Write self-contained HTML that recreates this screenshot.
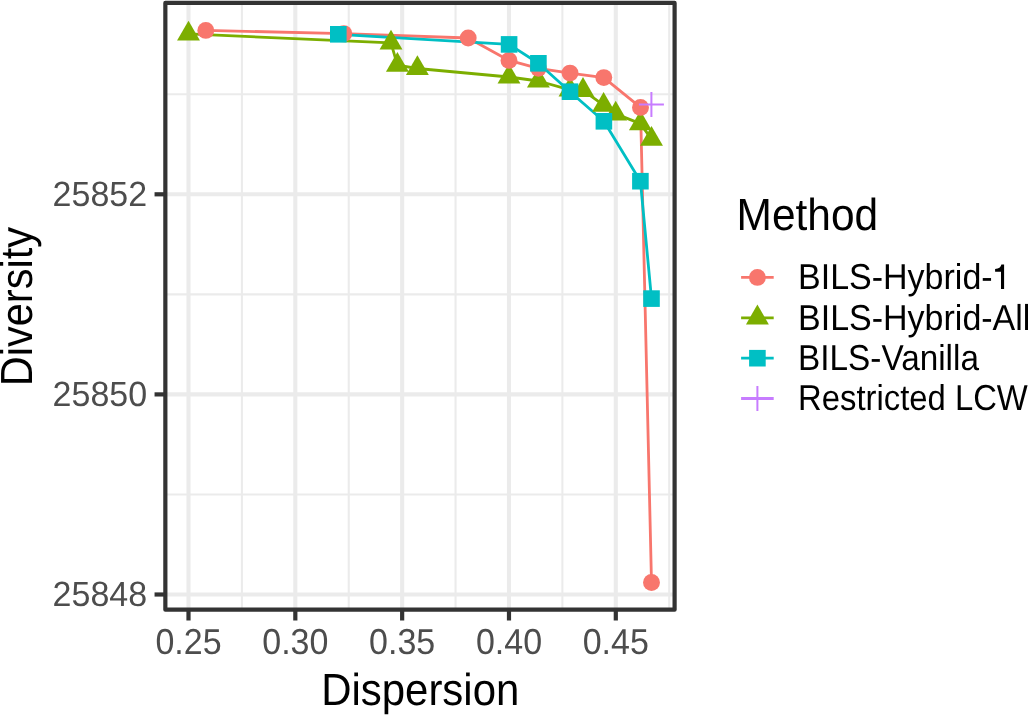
<!DOCTYPE html>
<html><head><meta charset="utf-8"><style>
html,body{margin:0;padding:0;background:#fff;width:1028px;height:715px;overflow:hidden}
svg{display:block}
text{font-family:"Liberation Sans",sans-serif;text-rendering:geometricPrecision}
svg{will-change:transform}
</style></head><body>
<svg width="1028" height="715" viewBox="0 0 1028 715">
<rect width="1028" height="715" fill="#fff"/>
<rect x="165.35" y="2.95" width="509.25" height="606.75" fill="#fff"/>
<line x1="241.91" y1="2.95" x2="241.91" y2="609.7" stroke="#EBEBEB" stroke-width="2.06"/>
<line x1="348.74" y1="2.95" x2="348.74" y2="609.7" stroke="#EBEBEB" stroke-width="2.06"/>
<line x1="455.56" y1="2.95" x2="455.56" y2="609.7" stroke="#EBEBEB" stroke-width="2.06"/>
<line x1="562.39" y1="2.95" x2="562.39" y2="609.7" stroke="#EBEBEB" stroke-width="2.06"/>
<line x1="669.21" y1="2.95" x2="669.21" y2="609.7" stroke="#EBEBEB" stroke-width="2.06"/>
<line x1="165.35" y1="494.45" x2="674.6" y2="494.45" stroke="#EBEBEB" stroke-width="2.06"/>
<line x1="165.35" y1="294.35" x2="674.6" y2="294.35" stroke="#EBEBEB" stroke-width="2.06"/>
<line x1="165.35" y1="94.25" x2="674.6" y2="94.25" stroke="#EBEBEB" stroke-width="2.06"/>
<line x1="188.50" y1="2.95" x2="188.50" y2="609.7" stroke="#EBEBEB" stroke-width="4.1"/>
<line x1="295.32" y1="2.95" x2="295.32" y2="609.7" stroke="#EBEBEB" stroke-width="4.1"/>
<line x1="402.15" y1="2.95" x2="402.15" y2="609.7" stroke="#EBEBEB" stroke-width="4.1"/>
<line x1="508.98" y1="2.95" x2="508.98" y2="609.7" stroke="#EBEBEB" stroke-width="4.1"/>
<line x1="615.80" y1="2.95" x2="615.80" y2="609.7" stroke="#EBEBEB" stroke-width="4.1"/>
<line x1="165.35" y1="594.50" x2="674.6" y2="594.50" stroke="#EBEBEB" stroke-width="4.1"/>
<line x1="165.35" y1="394.40" x2="674.6" y2="394.40" stroke="#EBEBEB" stroke-width="4.1"/>
<line x1="165.35" y1="194.30" x2="674.6" y2="194.30" stroke="#EBEBEB" stroke-width="4.1"/>
<path d="M205.80,30.40L343.80,33.60L468.20,38.00L509.00,60.40L538.40,68.30L570.00,73.10L603.80,77.60L640.50,107.40L651.50,582.50" stroke="#F8766D" stroke-width="2.8" fill="none" stroke-linejoin="round" stroke-linecap="butt"/>
<path d="M188.50,33.90L391.00,42.90L397.40,65.10L417.40,68.50L509.00,77.00L538.40,81.00L570.00,89.90L583.00,90.30L603.60,105.20L615.70,113.90L640.40,123.60L651.50,139.10" stroke="#7CAE00" stroke-width="2.8" fill="none" stroke-linejoin="round" stroke-linecap="butt"/>
<path d="M338.30,34.30L509.10,44.40L538.40,63.30L570.00,91.70L603.90,121.30L640.40,181.20L651.50,298.60" stroke="#00BFC4" stroke-width="2.8" fill="none" stroke-linejoin="round" stroke-linecap="butt"/>
<path d="M188.50,20.68L199.95,40.51L177.05,40.51Z" fill="#7CAE00"/>
<path d="M391.00,29.68L402.45,49.51L379.55,49.51Z" fill="#7CAE00"/>
<path d="M397.40,51.88L408.85,71.71L385.95,71.71Z" fill="#7CAE00"/>
<path d="M417.40,55.28L428.85,75.11L405.95,75.11Z" fill="#7CAE00"/>
<path d="M509.00,63.78L520.45,83.61L497.55,83.61Z" fill="#7CAE00"/>
<path d="M538.40,67.78L549.85,87.61L526.95,87.61Z" fill="#7CAE00"/>
<path d="M570.00,76.68L581.45,96.51L558.55,96.51Z" fill="#7CAE00"/>
<path d="M583.00,77.08L594.45,96.91L571.55,96.91Z" fill="#7CAE00"/>
<path d="M603.60,91.98L615.05,111.81L592.15,111.81Z" fill="#7CAE00"/>
<path d="M615.70,100.68L627.15,120.51L604.25,120.51Z" fill="#7CAE00"/>
<path d="M640.40,110.38L651.85,130.21L628.95,130.21Z" fill="#7CAE00"/>
<path d="M651.50,125.88L662.95,145.71L640.05,145.71Z" fill="#7CAE00"/>
<circle cx="205.80" cy="30.40" r="8.45" fill="#F8766D"/>
<circle cx="343.80" cy="33.60" r="8.45" fill="#F8766D"/>
<circle cx="468.20" cy="38.00" r="8.45" fill="#F8766D"/>
<circle cx="509.00" cy="60.40" r="8.45" fill="#F8766D"/>
<circle cx="538.40" cy="68.30" r="8.45" fill="#F8766D"/>
<circle cx="570.00" cy="73.10" r="8.45" fill="#F8766D"/>
<circle cx="603.80" cy="77.60" r="8.45" fill="#F8766D"/>
<circle cx="640.50" cy="107.40" r="8.45" fill="#F8766D"/>
<circle cx="651.50" cy="582.50" r="8.45" fill="#F8766D"/>
<rect x="330.00" y="26.00" width="16.60" height="16.60" fill="#00BFC4"/>
<rect x="500.80" y="36.10" width="16.60" height="16.60" fill="#00BFC4"/>
<rect x="530.10" y="55.00" width="16.60" height="16.60" fill="#00BFC4"/>
<rect x="561.70" y="83.40" width="16.60" height="16.60" fill="#00BFC4"/>
<rect x="595.60" y="113.00" width="16.60" height="16.60" fill="#00BFC4"/>
<rect x="632.10" y="172.90" width="16.60" height="16.60" fill="#00BFC4"/>
<rect x="643.20" y="290.30" width="16.60" height="16.60" fill="#00BFC4"/>
<path d="M638.90,104.50H663.90M651.40,92.00V117.00" stroke="#C77CFF" stroke-width="2.0" fill="none"/>
<rect x="165.35" y="2.95" width="509.25" height="606.75" fill="none" stroke="#333333" stroke-width="4.2" stroke-linejoin="round"/>
<line x1="188.50" y1="609.7" x2="188.50" y2="620.50" stroke="#333333" stroke-width="4.2"/>
<line x1="295.32" y1="609.7" x2="295.32" y2="620.50" stroke="#333333" stroke-width="4.2"/>
<line x1="402.15" y1="609.7" x2="402.15" y2="620.50" stroke="#333333" stroke-width="4.2"/>
<line x1="508.98" y1="609.7" x2="508.98" y2="620.50" stroke="#333333" stroke-width="4.2"/>
<line x1="615.80" y1="609.7" x2="615.80" y2="620.50" stroke="#333333" stroke-width="4.2"/>
<line x1="165.35" y1="594.50" x2="154.55" y2="594.50" stroke="#333333" stroke-width="4.2"/>
<line x1="165.35" y1="394.40" x2="154.55" y2="394.40" stroke="#333333" stroke-width="4.2"/>
<line x1="165.35" y1="194.30" x2="154.55" y2="194.30" stroke="#333333" stroke-width="4.2"/>
<text transform="translate(188.50,653.60) scale(1.0,1.06)" font-size="34.0" fill="#4D4D4D" text-anchor="middle">0.25</text>
<text transform="translate(295.32,653.60) scale(1.0,1.06)" font-size="34.0" fill="#4D4D4D" text-anchor="middle">0.30</text>
<text transform="translate(402.15,653.60) scale(1.0,1.06)" font-size="34.0" fill="#4D4D4D" text-anchor="middle">0.35</text>
<text transform="translate(508.98,653.60) scale(1.0,1.06)" font-size="34.0" fill="#4D4D4D" text-anchor="middle">0.40</text>
<text transform="translate(615.80,653.60) scale(1.0,1.06)" font-size="34.0" fill="#4D4D4D" text-anchor="middle">0.45</text>
<text transform="translate(147.11,606.20) scale(1.0,1.03)" font-size="34.0" fill="#4D4D4D" text-anchor="end">25848</text>
<text transform="translate(147.11,406.10) scale(1.0,1.03)" font-size="34.0" fill="#4D4D4D" text-anchor="end">25850</text>
<text transform="translate(147.11,206.00) scale(1.0,1.03)" font-size="34.0" fill="#4D4D4D" text-anchor="end">25852</text>
<text transform="translate(321.16,705.40) scale(0.988,1.06)" font-size="42.46" fill="#000" text-anchor="start">Dispersion</text>
<text transform="translate(31.80,386.21) rotate(-90) scale(0.978,1.06)" font-size="42.46" fill="#000" text-anchor="start">Diversity</text>
<text transform="translate(736.52,230.30) scale(1.0,1.06)" font-size="42.46" fill="#000" text-anchor="start">Method</text>
<line x1="741.1" y1="277.4" x2="773.7" y2="277.4" stroke="#F8766D" stroke-width="2.8"/>
<circle cx="757.40" cy="277.40" r="8.45" fill="#F8766D"/>
<text transform="translate(798.01,289.10) scale(1.0,1.06)" font-size="34.0" fill="#000" text-anchor="start">BILS-Hybrid-</text>
<path d="M1004.1,289L1004.1,264.6L1001.4,264.6C1000.8,267.4 999,268.8 995.1,269.1L995.1,271.7L1001,271.7L1001,289Z" fill="#000"/>
<line x1="741.1" y1="317.8" x2="773.7" y2="317.8" stroke="#7CAE00" stroke-width="2.8"/>
<path d="M757.40,304.58L768.85,324.41L745.95,324.41Z" fill="#7CAE00"/>
<text transform="translate(798.01,329.50) scale(1.0,1.06)" font-size="34.0" fill="#000" text-anchor="start">BILS-Hybrid-All</text>
<line x1="741.1" y1="358.2" x2="773.7" y2="358.2" stroke="#00BFC4" stroke-width="2.8"/>
<rect x="749.10" y="349.90" width="16.60" height="16.60" fill="#00BFC4"/>
<text transform="translate(798.07,369.90) scale(0.98,1.06)" font-size="34.0" fill="#000" text-anchor="start">BILS-Vanilla</text>
<line x1="741.1" y1="398.5" x2="773.7" y2="398.5" stroke="#C77CFF" stroke-width="2.8"/>
<path d="M744.90,398.50H769.90M757.40,386.00V411.00" stroke="#C77CFF" stroke-width="2.0" fill="none"/>
<text transform="translate(798.11,410.20) scale(0.965,1.06)" font-size="34.0" fill="#000" text-anchor="start">Restricted LCW</text>
</svg>
</body></html>
